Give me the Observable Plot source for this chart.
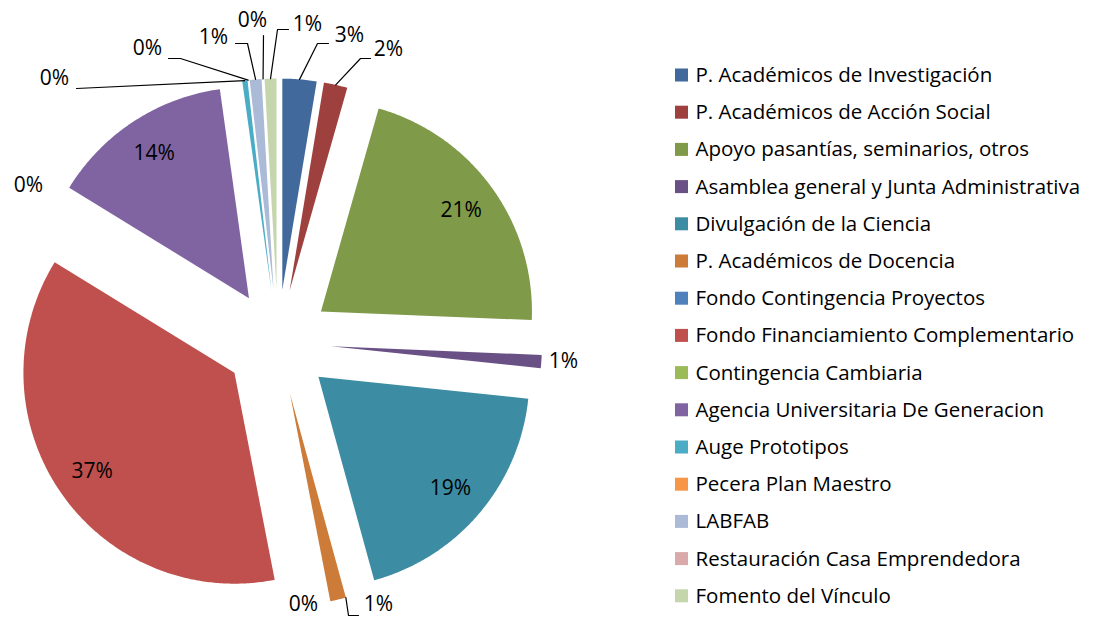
<!DOCTYPE html>
<html><head><meta charset="utf-8">
<script src="https://cdn.jsdelivr.net/npm/d3@7"></script>
<script src="https://cdn.jsdelivr.net/npm/@observablehq/plot@0.6"></script>
<style>body{margin:0;background:#fff;} #chart svg{display:block;}</style>
</head><body><div id="chart"></div>
<script>
// ---- data ----
const categories = [
  "P. Académicos de Investigación",
  "P. Académicos de Acción Social",
  "Apoyo pasantías, seminarios, otros",
  "Asamblea general y Junta Administrativa",
  "Divulgación de la Ciencia",
  "P. Académicos de Docencia",
  "Fondo Contingencia Proyectos",
  "Fondo Financiamiento Complementario",
  "Contingencia Cambiaria",
  "Agencia Universitaria De Generacion",
  "Auge Prototipos",
  "Pecera Plan Maestro",
  "LABFAB",
  "Restauración Casa Emprendedora",
  "Fomento del Vínculo"
];
const values = [2.6, 1.8, 21.2, 1.0, 19.05, 1.2, 0, 36.75, 0, 14.0, 0.4, 0, 0.9, 0, 0.9];
const colors = [
  "#41699c", "#9e413e", "#7f9a48", "#695185", "#3c8ca3",
  "#cc7b38", "#4f81bd", "#c0504d", "#9bbb59", "#8064a2",
  "#4bacc6", "#f79646", "#aabad7", "#d9aaa9", "#c6d6ac"
];

// ---- layout ----
const W = 1095, H = 618;
const cx = 277.5, cy = 342, R = 211, explode = 53;
const font = "'Open Sans', sans-serif";

// outside label placement (layout only): text centre and leader elbow points
const outside = {
  "P. Académicos de Investigación": {x: 349, y: 35, leader: [[328, 43], [317, 43]]},
  "P. Académicos de Acción Social": {x: 388, y: 49, leader: [[370, 58], [360, 58]]},
  "Asamblea general y Junta Administrativa": {x: 563, y: 361},
  "P. Académicos de Docencia": {x: 378, y: 604, leader: [[358, 615], [348, 615]], f: 0},
  "Fondo Contingencia Proyectos": {x: 303, y: 604},
  "Contingencia Cambiaria": {x: 28, y: 185},
  "Auge Prototipos": {x: 54, y: 78, leader: [[76, 88]]},
  "Pecera Plan Maestro": {x: 147, y: 48, leader: [[168, 58], [180, 58]]},
  "LABFAB": {x: 213, y: 37, leader: [[235, 43], [247, 43]]},
  "Restauración Casa Emprendedora": {x: 252, y: 20, leader: [[263, 35]]},
  "Fomento del Vínculo": {x: 307, y: 24, leader: [[288, 29], [277, 29]]}
};

const total = d3.sum(values);
const arcs = d3.pie().sort(null).value(d => d)(values);
const slices = arcs.map((a, i) => {
  const mid = (a.startAngle + a.endAngle) / 2;
  return {
    i, name: categories[i], start: a.startAngle, end: a.endAngle, mid,
    ax: cx + explode * Math.sin(mid), ay: cy - explode * Math.cos(mid),
    pct: Math.round(values[i] / total * 100) + "%"
  };
});

const pts = [];
for (const s of slices) {
  if (s.end - s.start <= 0) continue;
  pts.push({name: s.name, x: s.ax, y: s.ay});
  const n = Math.max(2, Math.ceil((s.end - s.start) / (Math.PI / 360)));
  for (let k = 0; k <= n; k++) {
    const t = s.start + (s.end - s.start) * k / n;
    pts.push({name: s.name, x: s.ax + R * Math.sin(t), y: s.ay - R * Math.cos(t)});
  }
}

const labels = [];
const leaders = [];
for (const s of slices) {
  const o = outside[s.name];
  if (o) {
    labels.push({x: o.x, y: o.y, text: s.pct});
    if (o.leader) {
      const f = o.f ?? 0.5;
      const t = s.start + (s.end - s.start) * f;
      const line = o.leader.map(p => ({name: s.name, x: p[0], y: p[1]}));
      line.push({name: s.name, x: s.ax + R * Math.sin(t), y: s.ay - R * Math.cos(t)});
      leaders.push(...line);
    }
  } else {
    labels.push({x: s.ax + 0.82 * R * Math.sin(s.mid), y: s.ay - 0.82 * R * Math.cos(s.mid), text: s.pct});
  }
}

const legendY = i => 75 + i * 37.2;

const chart = Plot.plot({
  width: W, height: H,
  margin: 0,
  style: {fontFamily: font, background: "white"},
  x: {domain: [0, W], range: [0, W], axis: null},
  y: {domain: [0, H], range: [0, H], axis: null},
  color: {domain: categories, range: colors},
  marks: [
    Plot.line(pts, {x: "x", y: "y", z: "name", fill: "name", stroke: null, curve: "linear-closed"}),
    Plot.line(leaders, {x: "x", y: "y", z: "name", stroke: "black", strokeWidth: 1.2}),
    Plot.text(labels, {x: "x", y: "y", text: "text", fontSize: 21, fill: "black", textAnchor: "middle"}),
    Plot.rect(categories, {x1: () => 675, x2: () => 688, y1: (d, i) => legendY(i) - 6.5, y2: (d, i) => legendY(i) + 6.5, fill: d => d}),
    Plot.text(categories, {x: () => 695, y: (d, i) => legendY(i), text: d => d, textAnchor: "start", fontSize: 20.5, fill: "black"})
  ]
});
document.getElementById("chart").appendChild(chart);
</script>
</body></html>
